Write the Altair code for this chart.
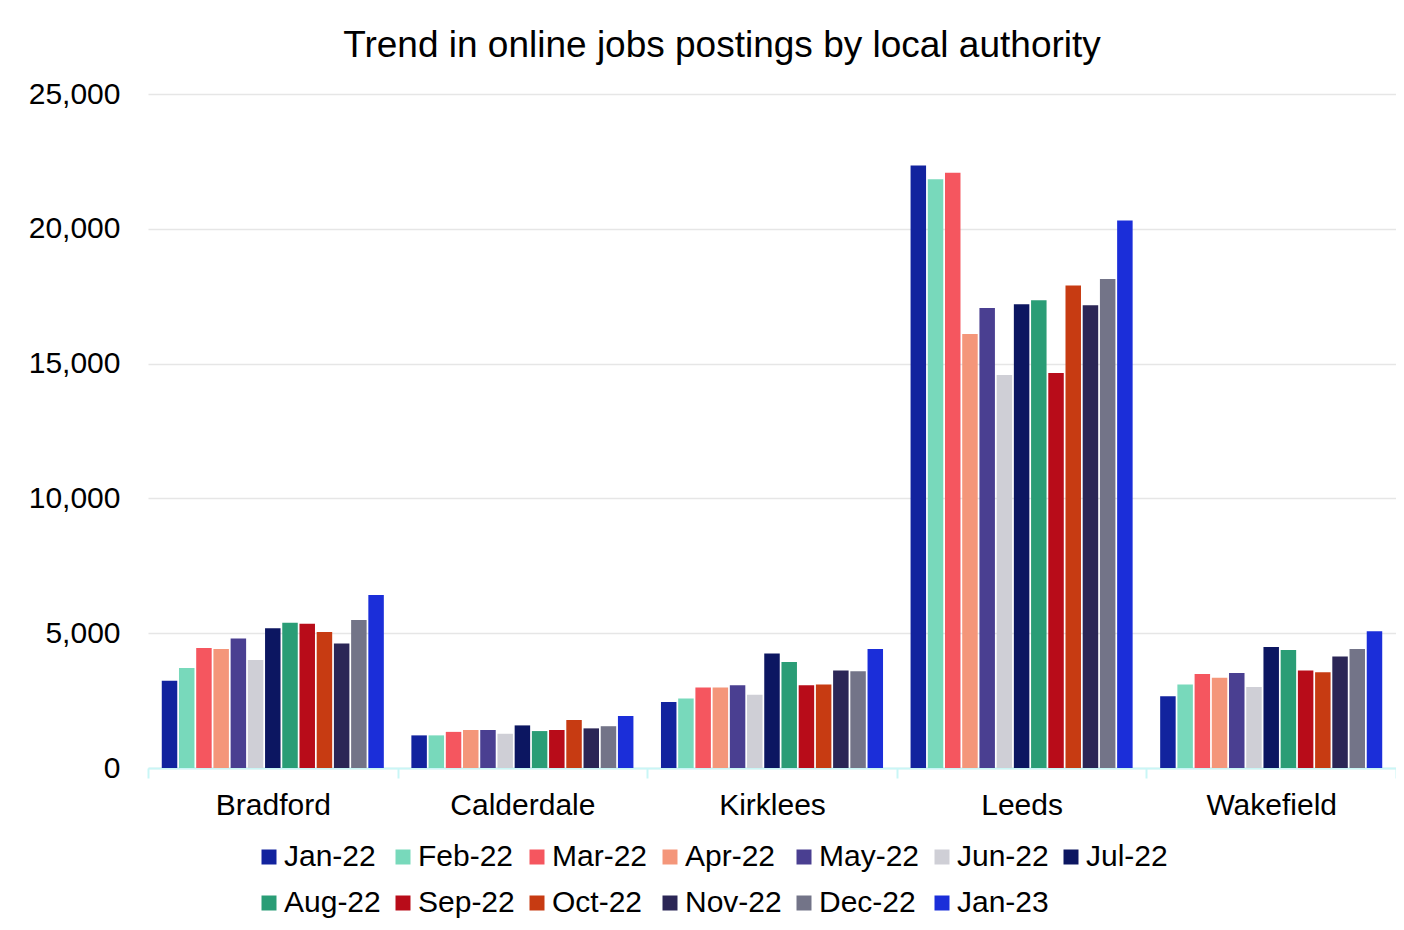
import altair as alt
import pandas as pd

authorities = ["Bradford", "Calderdale", "Kirklees", "Leeds", "Wakefield"]
months = ["Jan-22", "Feb-22", "Mar-22", "Apr-22", "May-22", "Jun-22", "Jul-22",
          "Aug-22", "Sep-22", "Oct-22", "Nov-22", "Dec-22", "Jan-23"]
colors = ["#12239E", "#78D9BB", "#F5565F", "#F4967A", "#4A3F91", "#CFCFD6", "#0C1661",
          "#2A9D76", "#B80C19", "#C73B12", "#2B2656", "#737488", "#1B2ED9"]

bradford = [3240, 3710, 4450, 4410, 4800, 4010, 5180, 5390, 5350, 5040, 4620, 5490, 6420]
calderdale = [1210, 1210, 1340, 1410, 1410, 1270, 1580, 1370, 1410, 1780, 1470, 1550, 1930]
kirklees = [2450, 2580, 2990, 2990, 3070, 2720, 4250, 3930, 3070, 3100, 3620, 3590, 4410]
leeds = [22350, 21840, 22080, 16100, 17060, 14580, 17200, 17350, 14650, 17900, 17160, 18140, 20310]
wakefield = [2660, 3100, 3490, 3350, 3520, 3000, 4490, 4380, 3620, 3550, 4140, 4410, 5070]

y_ticks = [0, 5000, 10000, 15000, 20000, 25000]

series = [bradford, calderdale, kirklees, leeds, wakefield]
rows = []
for la, vals in zip(authorities, series):
    for m, v in zip(months, vals):
        rows.append({"la": la, "month": m, "value": v})
df = pd.DataFrame(rows)

cyan = "#C9F6F6"

chart = alt.Chart(df).mark_bar().encode(
    x=alt.X("la:N", sort=authorities, title=None,
            scale=alt.Scale(paddingInner=0, paddingOuter=0),
            axis=alt.Axis(labelAngle=0, labelFontSize=30, labelPadding=12, labelColor="#000000",
                          tickBand="extent", tickSize=10, tickColor=cyan, tickWidth=2,
                          domainColor=cyan, domainWidth=2, grid=False)),
    xOffset=alt.XOffset("month:N", sort=months,
                        scale=alt.Scale(paddingInner=0.1, paddingOuter=0.8)),
    y=alt.Y("value:Q", scale=alt.Scale(domain=[0, 25000]),
            axis=alt.Axis(values=y_ticks, format=",.0f", title=None, domain=False, ticks=False,
                          labelPadding=28, labelFontSize=30, labelColor="#000000",
                          gridColor="#E6E6E6", gridWidth=1.5)),
    color=alt.Color("month:N", sort=months,
                    scale=alt.Scale(domain=months, range=colors),
                    legend=alt.Legend(orient="none", legendX=106, legendY=748,
                                      direction="horizontal", columns=7, title=None,
                                      symbolType="square", symbolSize=225, symbolStrokeWidth=0,
                                      labelFontSize=30, labelColor="#000000", labelOffset=0,
                                      columnPadding=7, rowPadding=16)),
).properties(
    width=1248,
    height=674,
    title=alt.TitleParams("Trend in online jobs postings by local authority",
                          fontSize=37, fontWeight="normal", color="#000000",
                          anchor="middle", dx=-50, offset=14),
    autosize=alt.AutoSizeParams(type="none"),
    padding={"left": 140, "top": 86, "right": 0, "bottom": 150},
).configure(
    font="Liberation Sans"
).configure_view(
    stroke=None
)

chart.save("out.html", embed_options={"renderer": "svg", "actions": False})
